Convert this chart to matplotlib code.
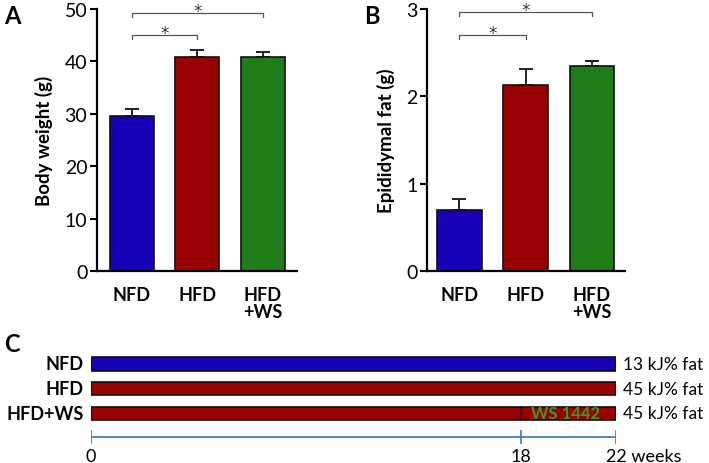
import matplotlib.pyplot as plt

plt.rcParams['font.family'] = ['Lato', 'DejaVu Sans']

groups = ['NFD', 'HFD', 'HFD\n+WS']
colors = ['#1600b8', '#990000', '#1f7d1a']

body_weight = [29.5, 40.8, 40.8]
body_weight_err = [1.5, 1.4, 1.0]
epi_fat = [0.70, 2.13, 2.35]
epi_fat_err = [0.13, 0.18, 0.05]

# significance brackets: (from, to, height)
sig_a = [(0, 1, 45.0), (0, 2, 49.3)]
sig_b = [(0, 1, 2.70), (0, 2, 2.96)]

diet_rows = ['NFD', 'HFD', 'HFD+WS']
diet_colors = ['#1600b8', '#990000', '#990000']
diet_fat = ['13 kJ% fat', '45 kJ% fat', '45 kJ% fat']
total_weeks = 22
ws_start = 18
timeline_ticks = [0, 18, 22]
timeline_labels = ['0', '18', '22 weeks']

fig = plt.figure(figsize=(7.09, 4.64), dpi=100)


def bar_panel(ax, vals, errs, ylim, yticks, ylabel, sig, px):
    # px = size of one pixel in data units
    x = range(len(vals))
    ax.bar(x, vals, width=0.67, color=colors, edgecolor='#111111', linewidth=1.2, zorder=2)
    ax.errorbar(x, vals, yerr=[[0] * len(errs), errs], fmt='none', ecolor='#111111',
                elinewidth=1.3, capsize=5, capthick=1.3, zorder=1)
    ax.set_ylim(*ylim)
    ax.set_yticks(yticks)
    ax.set_xticks(list(x))
    ax.set_xticklabels(groups, fontweight='bold', fontsize=13, linespacing=0.95)
    ax.tick_params(axis='x', length=0, pad=11)
    ax.tick_params(axis='y', labelsize=14, width=1.5, length=5, pad=2)
    ax.set_ylabel(ylabel, fontweight='bold', fontsize=13.5, labelpad=8)
    for s in ['top', 'right']:
        ax.spines[s].set_visible(False)
    for s in ['left', 'bottom']:
        ax.spines[s].set_linewidth(1.6)
    for a, b, h in sig:
        ax.plot([a, a, b, b], [h - 4 * px, h, h, h - 4 * px], color='#555555', lw=0.9, clip_on=False)
        ax.text((a + b) / 2, h - 3 * px, '*', ha='center', va='baseline', fontsize=12,
                color='#333333', clip_on=False, family='DejaVu Sans')


ax_a = fig.add_axes([97 / 709, 1 - 272 / 464, 200 / 709, 262 / 464])
bar_panel(ax_a, body_weight, body_weight_err, (0, 50), range(0, 51, 10),
          'Body weight (g)', sig_a, 50 / 262)
ax_a.set_xlim(-0.53, 2.52)

ax_b = fig.add_axes([427 / 709, 1 - 272 / 464, 198 / 709, 262 / 464])
bar_panel(ax_b, epi_fat, epi_fat_err, (0, 3), range(0, 4),
          'Epididymal fat (g)', sig_b, 3 / 262)
ax_b.set_xlim(-0.49, 2.50)

fig.text(4 / 709, 1 - 16 / 464, 'A', fontsize=17, fontweight='bold', va='center')
fig.text(364 / 709, 1 - 16 / 464, 'B', fontsize=17, fontweight='bold', va='center')
fig.text(4 / 709, 1 - 345 / 464, 'C', fontsize=17, fontweight='bold', va='center')

# panel C: diet timeline
ax_c = fig.add_axes([91 / 709, 0, 525 / 709, 114 / 464])
ax_c.set_xlim(0, total_weeks)
ax_c.set_ylim(4.0, -0.606)
ax_c.axis('off')
for i, (name, col, fat) in enumerate(zip(diet_rows, diet_colors, diet_fat)):
    ax_c.barh(i, total_weeks, height=0.53, left=0, color=col, edgecolor='#111111', linewidth=1.2)
    ax_c.text(-0.3, i, name, ha='right', va='center', fontsize=13, fontweight='bold', clip_on=False)
    ax_c.text(total_weeks + 0.3, i, fat, ha='left', va='center', fontsize=12.5, clip_on=False)
ax_c.plot([ws_start, ws_start], [2 - 0.265, 2 + 0.265], color='#111111', lw=1.2)
ax_c.text(19.9, 2, 'WS 1442', ha='center', va='center',
          fontsize=12, fontweight='bold', color='#3a9a2a')

tl_y = 2.95
ax_c.plot([0, total_weeks], [tl_y, tl_y], color='#4a7ebb', lw=1.3)
for t, lab in zip(timeline_ticks, timeline_labels):
    ax_c.plot([t, t], [tl_y - 0.25, tl_y + 0.25], color='#4a7ebb', lw=1.3)
    if lab.endswith('weeks'):
        ax_c.text(t - 0.4, 3.72, lab, ha='left', va='center', fontsize=13, clip_on=False)
    else:
        ax_c.text(t, 3.72, lab, ha='center', va='center', fontsize=13, clip_on=False)

fig.savefig('out.png', dpi=100)
